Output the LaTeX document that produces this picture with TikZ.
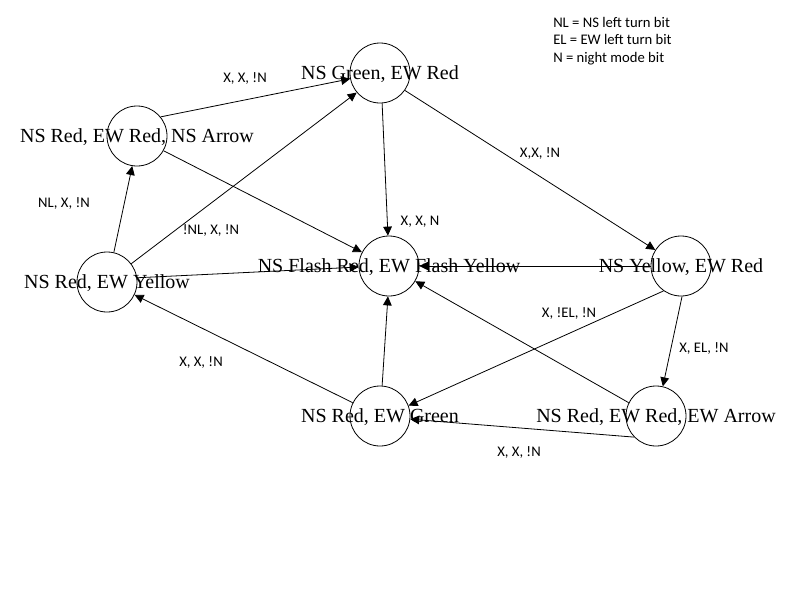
\documentclass[tikz,border=0pt]{standalone}
\usepackage{fontspec}
\setmainfont{Liberation Serif}
\newfontfamily\condfont{Carlito}
\usetikzlibrary{arrows.meta,scopes}
\begin{document}
\begin{tikzpicture}[
    x=0.75pt,y=-0.75pt,
    statecircle/.style={circle,draw,minimum size=45pt,inner sep=0pt,line width=0.6pt},
    statename/.style={font=\fontsize{15}{18}\selectfont,inner sep=0pt,anchor=base},
    trans/.style={draw,line width=0.6pt,-{Triangle[length=6.75pt,width=6.5pt]}},
    cond/.style={font=\condfont\fontsize{11}{13}\selectfont,inner sep=0pt},
    keytext/.style={font=\condfont\fontsize{11}{13}\selectfont,inner sep=0pt,anchor=base west},
]
	\useasboundingbox (0,0) rectangle (800,600);
	% states
	\node[statecircle] (green) at (380,73) {};
	\node[statecircle] (nsarrow) at (137,136) {};
	\node[statecircle] (yellow) at (107,282) {};
	\node[statecircle] (flash) at (389,266) {};
	\node[statecircle] (nsyellow) at (681,266) {};
	\node[statecircle] (ewgreen) at (380,416) {};
	\node[statecircle] (ewarrow) at (656,416) {};
	{[every node/.style=statename]
	\path (green) ++(0,6.5) node (greentext) {NS Green, EW Red};
	\path (nsarrow) ++(0,6.5) node (nsarrowtext) {NS Red, EW Red, NS Arrow};
	\path (yellow) ++(0,6.5) node (yellowtext) {NS Red, EW Yellow};
	\path (flash) ++(0,6.5) node (flashtext) {NS Flash Red, EW Flash Yellow};
	\path (nsyellow) ++(0,6.5) node (nsyellowtext) {NS Yellow, EW Red};
	\path (ewgreen) ++(0,6.5) node (ewgreentext) {NS Red, EW Green};
	\path (ewarrow) ++(0,6.5) node (ewarrowtext) {NS Red, EW Red, EW Arrow};
	}
	% transitions
	{[trans]
	\draw (nsarrow.39) -- (green.191);
	\draw (yellow.77) -- (nsarrow.261);
	\draw (yellow.37) -- (green.220);
	\draw (nsarrow.331) -- (flash.153);
	\draw (green.274) -- (flash.92);
	\draw (yellow.8) -- (flash.182);
	\draw (green.325) -- (nsyellow.148);
	\draw (nsyellow.180) -- (flash.0);
	\draw (nsyellow.235) -- (ewgreen.20);
	\draw (nsyellow.272) -- (ewarrow.77);
	\draw (ewarrow.154) -- (flash.330);
	\draw (ewarrow.224) -- (ewgreen.354);
	\draw (ewgreen.86) -- (flash.268);
	\draw (ewgreen.154) -- (yellow.335);
	}
	% conditions
	{[every node/.style=cond]
	\node (c1) at (245,78) {X, X, !N};
	\node (c2) at (64,203) {NL, X, !N};
	\node (c3) at (211,230) {!NL, X, !N};
	\node (c4) at (420,222) {X, X, N};
	\node (c5) at (540,153) {X,X, !N};
	\node (c6) at (569,313) {X, !EL, !N};
	\node (c7) at (704,348) {X, EL, !N};
	\node (c8) at (519,452) {X, X, !N};
	\node (c9) at (201,362) {X, X, !N};
	}
	% legend
	\node[keytext] (keynl) at (553,27) {NL = NS left turn bit};
	\node[keytext] (keyel) at (553,44.5) {EL = EW left turn bit};
	\node[keytext] (keyn) at (553,62) {N = night mode bit};
\end{tikzpicture}
\end{document}
